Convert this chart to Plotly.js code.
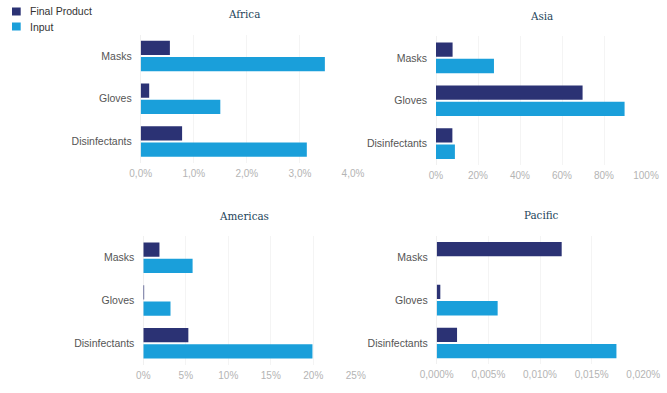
<!DOCTYPE html>
<html>
<head>
<meta charset="utf-8">
<script src="https://cdn.plot.ly/plotly-3.0.1.min.js"></script>
<style>
  html, body { margin: 0; padding: 0; background: #fff; }
  #chart { width: 667px; height: 393px; }
</style>
</head>
<body>
<div id="chart"></div>
<script>
// Product categories, top to bottom
const categories = ['Masks', 'Gloves', 'Disinfectants'];

// Shares (%) per region: final product vs. input
const africaFinal = [0.55, 0.16, 0.78];
const africaInput = [3.47, 1.50, 3.13];

const asiaFinal = [7.9, 69.8, 7.8];
const asiaInput = [27.6, 89.8, 9.0];

const americasFinal = [1.9, 0.1, 5.3];
const americasInput = [5.8, 3.2, 19.9];

const pacificFinal = [0.0121, 0.00035, 0.00197];
const pacificInput = [0, 0.0059, 0.0174];

const regionNames = ['Africa', 'Asia', 'Americas', 'Pacific'];
const seriesNames = ['Final Product', 'Input'];

const FINAL_COLOR = '#2b3274';
const INPUT_COLOR = '#1a9fda';
const seriesColors = [FINAL_COLOR, INPUT_COLOR];

const panels = [
  { fin: africaFinal,   inp: africaInput,   xa: 'x',  ya: 'y'  },
  { fin: asiaFinal,     inp: asiaInput,     xa: 'x2', ya: 'y2' },
  { fin: americasFinal, inp: americasInput, xa: 'x3', ya: 'y3' },
  { fin: pacificFinal,  inp: pacificInput,  xa: 'x4', ya: 'y4' }
];

const traces = [];
panels.forEach(p => {
  [p.fin, p.inp].forEach((vals, s) => {
    traces.push({
      type: 'bar', orientation: 'h', name: seriesNames[s],
      y: categories, x: vals, xaxis: p.xa, yaxis: p.ya,
      marker: { color: seriesColors[s] }, showlegend: false,
      hoverinfo: 'x+y'
    });
  });
});

const W = 667, H = 393;
const px = v => v / W;          // pixel -> paper x
const py = v => 1 - v / H;      // pixel -> paper y

const sansFamily = 'Liberation Sans, Arial, Helvetica, sans-serif';
const tickFont = { family: sansFamily, size: 10, color: '#b4b4b4' };
const catFont = { family: sansFamily, size: 10.5, color: '#555555' };
const titleFont = { family: 'DejaVu Serif Condensed, DejaVu Serif, serif', size: 11.5, color: '#24445a' };

function xAxis(domain, range, dtick, fmt, anchor) {
  return {
    domain: domain, range: range, dtick: dtick, tick0: 0,
    tickformat: fmt, ticksuffix: '%', anchor: anchor,
    showgrid: true, gridcolor: '#f4f4f4', gridwidth: 1,
    zeroline: true, zerolinecolor: '#f0f0f0', zerolinewidth: 1,
    showline: false, ticks: '', ticklabelstandoff: 3,
    tickfont: tickFont, fixedrange: true
  };
}
function yAxis(domain, anchor) {
  return {
    domain: domain, anchor: anchor, autorange: 'reversed',
    showgrid: false, zeroline: false, showline: false,
    ticks: '', ticklabelstandoff: 8, tickfont: catFont, fixedrange: true
  };
}

// Hand-made legend (squares + labels) in the top-left corner
const legendRows = [11.5, 26.5];
const legendShapes = legendRows.map((yc, i) => ({
  type: 'rect', xref: 'paper', yref: 'paper',
  x0: px(12), x1: px(20.7), y0: py(yc - 4), y1: py(yc + 4),
  fillcolor: seriesColors[i], line: { width: 0 }
}));
const legendLabels = legendRows.map((yc, i) => ({
  text: seriesNames[i], xref: 'paper', yref: 'paper',
  x: px(28), y: py(yc), xanchor: 'left', yanchor: 'middle',
  showarrow: false, font: { family: sansFamily, size: 10.5, color: '#333333' }
}));

const titles = [
  { text: regionNames[0], x: px(244), y: py(14) },
  { text: regionNames[1], x: px(541), y: py(16) },
  { text: regionNames[2], x: px(244), y: py(215.5) },
  { text: regionNames[3], x: px(541), y: py(215) }
].map(a => Object.assign(a, {
  xref: 'paper', yref: 'paper', xanchor: 'center', yanchor: 'middle',
  showarrow: false, font: titleFont
}));

const layout = {
  width: W, height: H,
  margin: { l: 0, r: 0, t: 0, b: 0, autoexpand: false },
  paper_bgcolor: '#ffffff', plot_bgcolor: '#ffffff',
  separators: ',.',
  barmode: 'group', bargap: 0.24, bargroupgap: 0.12,
  showlegend: false,
  xaxis:  xAxis([px(140.7), px(353)],   [0, 4],     1,     '.1f', 'y'),
  yaxis:  yAxis([py(162.9), py(34.6)], 'x'),
  xaxis2: xAxis([px(436), px(646)],     [0, 100],   20,    '.0f', 'y2'),
  yaxis2: yAxis([py(165), py(36.4)],   'x2'),
  xaxis3: xAxis([px(143.3), px(355.8)], [0, 25],    5,     '.0f', 'y3'),
  yaxis3: yAxis([py(364.6), py(236.3)], 'x3'),
  xaxis4: xAxis([px(436.7), px(643.3)], [0, 0.02],  0.005, '.3f', 'y4'),
  yaxis4: yAxis([py(364.4), py(235.8)], 'x4'),
  shapes: legendShapes,
  annotations: titles.concat(legendLabels)
};

Plotly.newPlot('chart', traces, layout, { displayModeBar: false, staticPlot: true });
</script>
</body>
</html>
